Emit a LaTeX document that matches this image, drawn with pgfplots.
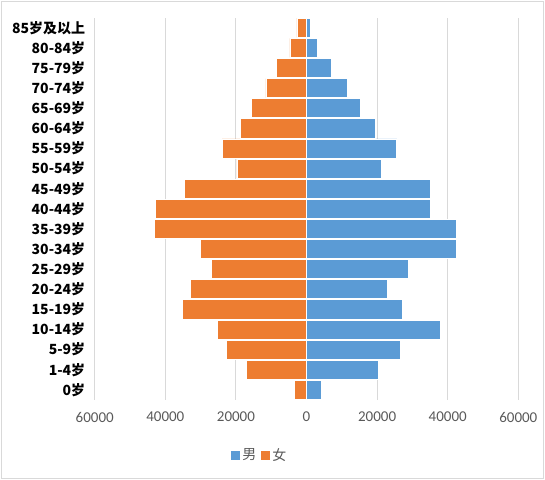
\documentclass[border=0pt]{standalone}
\usepackage{fontspec}
\setmainfont{Carlito}
\newfontfamily\cjk{Noto Sans CJK SC}
\usepackage{pgfplots}
\pgfplotsset{compat=1.18}
\usepackage{pgfplotstable}
\definecolor{male}{HTML}{5B9BD5}
\definecolor{female}{HTML}{ED7D31}
\definecolor{gridc}{HTML}{D9D9D9}
\definecolor{txt}{HTML}{595959}

\pgfplotstableread{
idx male female
0 4100 -3540
1 20300 -17100
2 26500 -22800
3 37800 -25300
4 27300 -35200
5 22800 -33000
6 28800 -27000
7 42400 -30100
8 42600 -43200
9 35000 -42900
10 35000 -34700
11 21100 -19700
12 25600 -23900
13 19400 -18600
14 15200 -15700
15 11500 -11500
16 7000 -8600
17 3000 -4700
18 1000 -2700
}\data

\begin{document}
\begin{tikzpicture}[x=1bp,y=1bp]
\useasboundingbox (0,0) rectangle (545,480);
\draw[gridc, line width=1bp] (1.5,1.5) rectangle (543.5,478.5);
\begin{axis}[
  at={(94.7bp,80bp)}, anchor=south west,
  scale only axis, width=423.6bp, height=382.3bp,
  xbar, bar shift=0pt, bar width=0.95,
  xmin=-60000, xmax=60000, ymin=-0.5, ymax=18.5,
  scaled x ticks=false,
  xtick={-60000,-40000,-20000,0,20000,40000,60000},
  xticklabels={60000,40000,20000,0,20000,40000,60000},
  ytick={0,...,18},
  yticklabels={0岁,1-4岁,5-9岁,10-14岁,15-19岁,20-24岁,25-29岁,30-34岁,35-39岁,40-44岁,45-49岁,50-54岁,55-59岁,60-64岁,65-69岁,70-74岁,75-79岁,80-84岁,85岁及以上},
  xmajorgrids, major grid style={gridc, line width=1bp},
  axis line style={draw=none}, major tick length=0pt,
  xticklabel style={font=\fontsize{15bp}{17bp}\selectfont, text=txt},
  yticklabel style={font=\cjk\bfseries\fontsize{14bp}{16bp}\selectfont, text=black},
  xticklabel shift=8.5bp, yticklabel shift=6bp,
  legend columns=2,
  legend style={at={(0.39,-0.144)}, anchor=center, draw=none, fill=none,
    font=\cjk\fontsize{14bp}{16bp}\selectfont, text=txt,
    /tikz/every even column/.append style={column sep=3bp}},
  legend image code/.code={\path[#1,draw=none] (0bp,-4.5bp) rectangle (9bp,4.5bp);},
]
\addplot[fill=male, draw=white, line width=0.8bp] table[x=male, y=idx] {\data};
\addlegendentry{男}
\addplot[fill=female, draw=white, line width=0.8bp] table[x=female, y=idx] {\data};
\addlegendentry{女}
\end{axis}
\end{tikzpicture}
\end{document}
